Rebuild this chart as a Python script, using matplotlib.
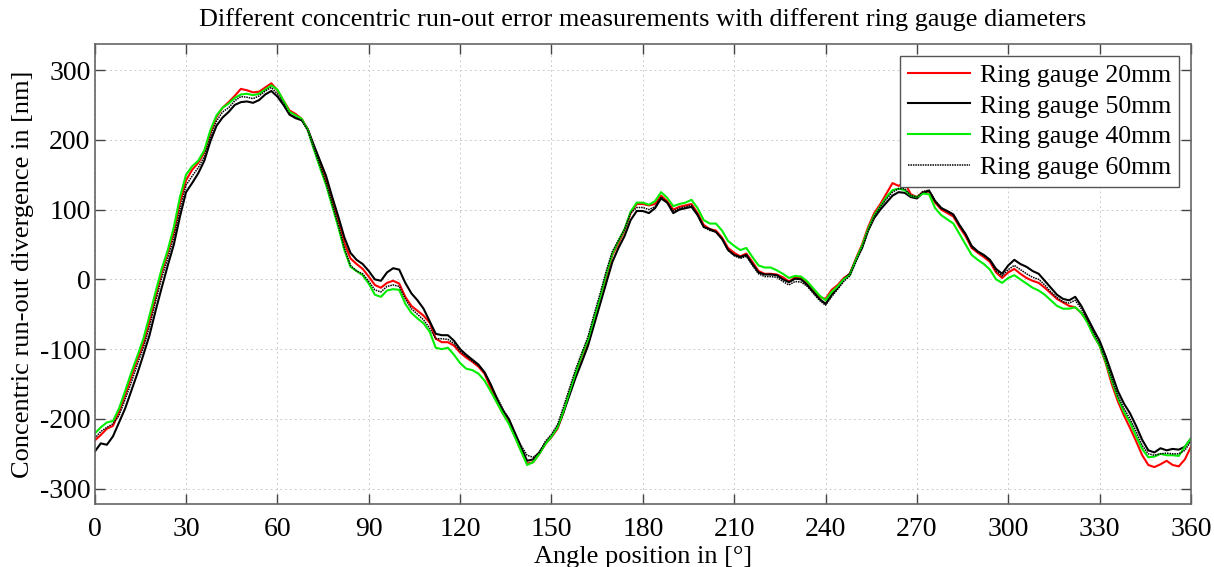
import numpy as np
import matplotlib
matplotlib.use("Agg")
import matplotlib.pyplot as plt

# angle positions (deg), 2 degree spacing
angle = np.arange(0, 361, 2)

ring_20 = [
    -231, -223, -214, -210, -190, -166, -140, -115, -92, -60,
    -25, 10, 38, 68, 110, 142, 157, 167, 182, 210,
    233, 246, 254, 263, 273, 271, 268, 269, 275, 281,
    271, 256, 242, 237, 230, 215, 188, 165, 140, 112,
    85, 52, 30, 22, 15, 4, -8, -12, -5, -2,
    -6, -25, -38, -45, -52, -62, -85, -90, -90, -95,
    -105, -112, -118, -125, -135, -155, -175, -192, -205, -225,
    -245, -264, -262, -250, -236, -226, -214, -190, -160, -135,
    -110, -90, -58, -28, 5, 35, 52, 70, 95, 108,
    108, 106, 108, 120, 112, 100, 104, 106, 108, 95,
    78, 72, 70, 60, 45, 38, 33, 37, 25, 12,
    8, 8, 7, 3, -3, 3, 2, -5, -15, -25,
    -28, -15, -8, 2, 8, 30, 50, 75, 95, 108,
    123, 138, 134, 139, 122, 118, 125, 126, 110, 100,
    95, 90, 75, 62, 45, 38, 32, 25, 10, 2,
    10, 15, 8, 2, -2, -5, -12, -20, -28, -33,
    -38, -40, -48, -60, -80, -95, -120, -150, -175, -195,
    -213, -232, -252, -266, -269, -265, -260, -266, -268, -258,
    -240,
]

ring_50 = [
    -247, -235, -237, -225, -205, -185, -160, -135, -108, -80,
    -45, -12, 20, 50, 90, 125, 138, 152, 170, 198,
    220, 232, 240, 250, 254, 255, 253, 257, 265, 270,
    262, 250, 236, 231, 228, 215, 192, 170, 148, 118,
    90, 60, 38, 28, 22, 12, 0, -2, 10, 16,
    14, -5, -20, -30, -42, -60, -78, -80, -80, -88,
    -100, -108, -115, -122, -133, -150, -170, -188, -200, -220,
    -240, -260, -258, -248, -235, -225, -212, -190, -165, -140,
    -118, -95, -65, -35, -5, 25, 45, 62, 85, 98,
    98, 95, 102, 116, 110, 95, 100, 102, 104, 92,
    75, 72, 68, 58, 42, 35, 32, 35, 22, 10,
    7, 7, 6, 0, -4, 1, 0, -8, -18, -28,
    -35, -22, -12, 0, 8, 28, 45, 70, 88, 100,
    110, 120, 125, 124, 118, 116, 124, 127, 112, 102,
    98, 93, 78, 65, 48, 40, 35, 28, 15, 8,
    20, 28, 22, 18, 12, 8, -2, -12, -22, -28,
    -30, -25, -38, -55, -72, -88, -110, -135, -160, -178,
    -192, -210, -230, -245, -248, -242, -245, -243, -244, -240,
    -228,
]

ring_40 = [
    -221, -212, -205, -203, -185, -160, -134, -110, -85, -52,
    -18, 15, 42, 75, 118, 150, 162, 170, 185, 214,
    235, 246, 252, 260, 265, 266, 264, 266, 272, 278,
    272, 256, 240, 235, 230, 214, 186, 160, 135, 105,
    75, 42, 18, 12, 6, -6, -22, -25, -16, -14,
    -15, -35, -48, -56, -63, -75, -98, -100, -98, -108,
    -120, -128, -130, -135, -145, -160, -176, -192, -207, -226,
    -246, -266, -262, -250, -236, -225, -212, -188, -160, -133,
    -108, -86, -55, -25, 8, 37, 55, 72, 97, 110,
    110, 107, 112, 125, 117, 105, 108, 110, 114, 102,
    85, 80, 80, 70, 55, 48, 42, 45, 32, 20,
    17, 17, 13, 8, 2, 5, 4, -3, -13, -23,
    -30, -18, -10, 0, 6, 28, 48, 72, 92, 105,
    118, 128, 130, 128, 120, 118, 123, 122, 102, 92,
    86, 80, 65, 50, 35, 28, 22, 14, 0, -5,
    2, 6, 0, -6, -12, -16, -22, -30, -38, -42,
    -42, -40, -48, -62, -80, -95, -118, -145, -170, -190,
    -205, -225, -243, -255, -254, -250, -252, -252, -253, -240,
    -228,
]

ring_60 = [
    -228, -218, -212, -207, -195, -172, -148, -122, -98, -68,
    -32, 2, 30, 60, 100, 135, 148, 160, 176, 204,
    227, 240, 246, 256, 262, 261, 259, 263, 270, 275,
    266, 252, 237, 232, 228, 213, 188, 163, 138, 108,
    78, 45, 20, 12, 8, -3, -15, -18, -10, -8,
    -10, -28, -42, -50, -58, -70, -85, -85, -86, -92,
    -103, -110, -117, -123, -133, -150, -168, -185, -200, -220,
    -238, -252, -255, -248, -232, -222, -208, -182, -155, -128,
    -105, -82, -50, -20, 12, 40, 56, 72, 95, 103,
    103, 100, 104, 118, 110, 98, 102, 104, 106, 93,
    75, 70, 68, 58, 42, 34, 30, 33, 20, 8,
    4, 4, 3, -3, -8, -3, -4, -10, -20, -30,
    -37, -25, -14, -3, 5, 25, 45, 70, 90, 104,
    115, 125, 130, 130, 120, 118, 126, 128, 113, 103,
    97, 92, 77, 64, 46, 40, 34, 27, 12, 5,
    14, 20, 14, 8, 3, 0, -8, -18, -26, -32,
    -34, -30, -42, -58, -76, -92, -115, -142, -167, -185,
    -200, -218, -238, -250, -252, -250, -249, -250, -250, -245,
    -232,
]

x_ticks = list(range(0, 361, 30))
y_ticks = [-300, -200, -100, 0, 100, 200, 300]

plt.rcParams['font.family'] = ['Liberation Serif', 'DejaVu Serif']
plt.rcParams['axes.unicode_minus'] = False

fig = plt.figure(figsize=(12.14, 5.67), dpi=100)
ax = fig.add_axes([0.078, 0.111, 0.903, 0.811])

ax.plot(angle, ring_20, color="#ff0000", lw=1.5, label="Ring gauge 20mm")
ax.plot(angle, ring_50, color="black", lw=1.5, label="Ring gauge 50mm")
ax.plot(angle, ring_40, color="#00ee00", lw=1.5, label="Ring gauge 40mm")
ax.plot(angle, ring_60, color="black", lw=1.1, ls=(0, (1, 0.6)), label="Ring gauge 60mm")

ax.set_xlim(0, 360)
ax.set_ylim(-322, 337)
ax.set_xticks(x_ticks)
ax.set_yticks(y_ticks)
ax.tick_params(direction="in", top=True, right=True, length=7, width=1,
               labelsize=20, color="#444444")
ax.tick_params(axis="x", pad=9)
ax.tick_params(axis="y", pad=3)
ax.grid(True, ls=(0, (2, 3)), color="#cccccc", lw=0.7)
for s in ax.spines.values():
    s.set_color("#666666")
    s.set_linewidth(1.2)

ax.set_xlabel("Angle position in [°]", fontsize=19, labelpad=3)
ax.set_ylabel("Concentric run-out divergence in [nm]", fontsize=19, labelpad=4)
ax.set_title("Different concentric run-out error measurements with different ring gauge diameters",
             fontsize=18.9, pad=13)

leg = ax.legend(loc="upper right", fontsize=18.6, handlelength=2.4, handletextpad=0.4,
                labelspacing=0.3, borderpad=0.3, borderaxespad=0.45, fancybox=False,
                framealpha=1)
leg.get_frame().set_edgecolor("#555555")
leg.get_frame().set_linewidth(1.0)

fig.savefig("out.png", dpi=100)
